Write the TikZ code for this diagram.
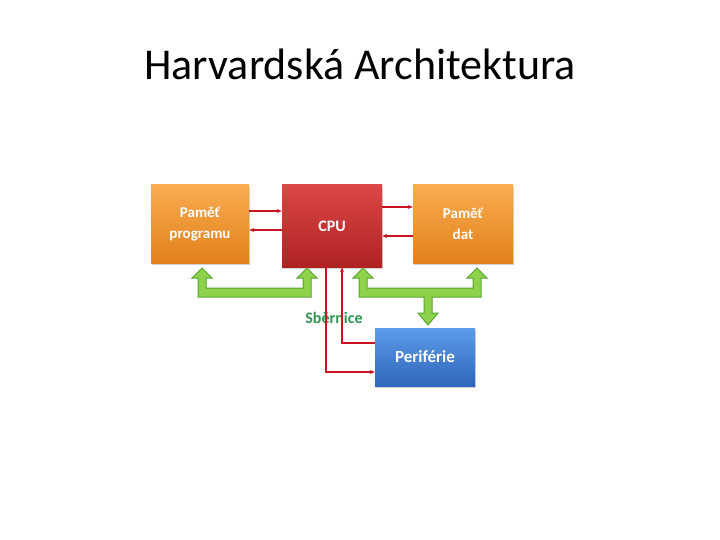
\documentclass[tikz,border=0pt]{standalone}
\usepackage{fontspec}
\setmainfont{Carlito}
\usetikzlibrary{arrows.meta,shadows}

\definecolor{orangetop}{HTML}{F8AC50}
\definecolor{orangebot}{HTML}{E3801C}
\definecolor{redtop}{HTML}{DC4646}
\definecolor{redbot}{HTML}{B02222}
\definecolor{bluetop}{HTML}{5C9CE8}
\definecolor{bluebot}{HTML}{2E66BC}
\definecolor{busfill}{HTML}{8ED24C}
\definecolor{busline}{HTML}{5AA530}
\definecolor{sigred}{HTML}{C8141E}
\definecolor{busgreen}{HTML}{2E9650}

\begin{document}
\begin{tikzpicture}[x=1pt,y=-1pt]
            \tikzstyle{block}=[inner sep=0pt, align=center, text=white,
              font=\fontsize{16}{20}\selectfont\bfseries,
              drop shadow={opacity=0.35,shadow xshift=1pt,shadow yshift=-2pt}]
            \tikzstyle{memblock}=[block, top color=orangetop, bottom color=orangebot,
              font=\fontsize{15}{21}\selectfont\bfseries]
            \tikzstyle{sig}=[sigred, line width=1.2pt, -{Stealth[length=5pt,width=4pt]}]
            \tikzstyle{bus}=[fill=busfill, draw=busline, line width=1pt, line join=miter]
            \useasboundingbox (0,0) rectangle (720,540);
            \fill [white] (0,0) rectangle (720,540);
            % title
            \node (title) [anchor=base, font=\fontsize{44}{52}\selectfont] at (360,80) {Harvardská Architektura};
            % blocks
            \node (prog) [memblock, minimum width=98pt, minimum height=78pt] at (200,224) {Paměť\\programu};
            \node (cpu) [block, minimum width=100pt, minimum height=82pt, top color=redtop, bottom color=redbot] at (332,226) {CPU};
            \node (dat) [memblock, minimum width=100pt, minimum height=78pt] at (463,224) {Paměť\\dat};
            \node (per) [block, minimum width=100pt, minimum height=58pt, top color=bluetop, bottom color=bluebot,
              font=\fontsize{17}{20}\selectfont\bfseries] at (425,357) {Periférie};
            % bus arrows
            \draw [bus] (202,268) -- (212,278) -- (206,278) -- (206,288) -- (303,288) -- (303,278)
              -- (297,278) -- (307,268) -- (317,278) -- (311,278) -- (311,297) -- (198,297)
              -- (198,278) -- (192,278) -- cycle;
            \draw [bus] (363,268) -- (373,278) -- (367,278) -- (367,288) -- (473,288) -- (473,278)
              -- (467,278) -- (477,268) -- (487,278) -- (481,278) -- (481,297) -- (432,297)
              -- (432,313) -- (438,313) -- (428,325) -- (418,313) -- (424,313) -- (424,297)
              -- (359,297) -- (359,278) -- (353,278) -- cycle;
            \node (bus) [text=busgreen, font=\fontsize{16}{20}\selectfont\bfseries] at (334,318) {Sběrnice};
            % signals
            \draw [sig] ([yshift=13pt]prog.east) -- ([yshift=13pt]prog.east -| cpu.west);
            \draw [sig] ([yshift=-6pt]prog.east -| cpu.west) -- ([yshift=-6pt]prog.east);
            \draw [sig] ([yshift=19pt]cpu.east) -- ([yshift=19pt]cpu.east -| dat.west);
            \draw [sig] ([yshift=-10pt]cpu.east -| dat.west) -- ([yshift=-10pt]cpu.east);
            \draw [sig] ([xshift=-6pt]cpu.south) |- ([yshift=-15pt]per.west);
            \draw [sig] ([yshift=14pt]per.west) -| ([xshift=10pt]cpu.south);
\end{tikzpicture}
\end{document}
